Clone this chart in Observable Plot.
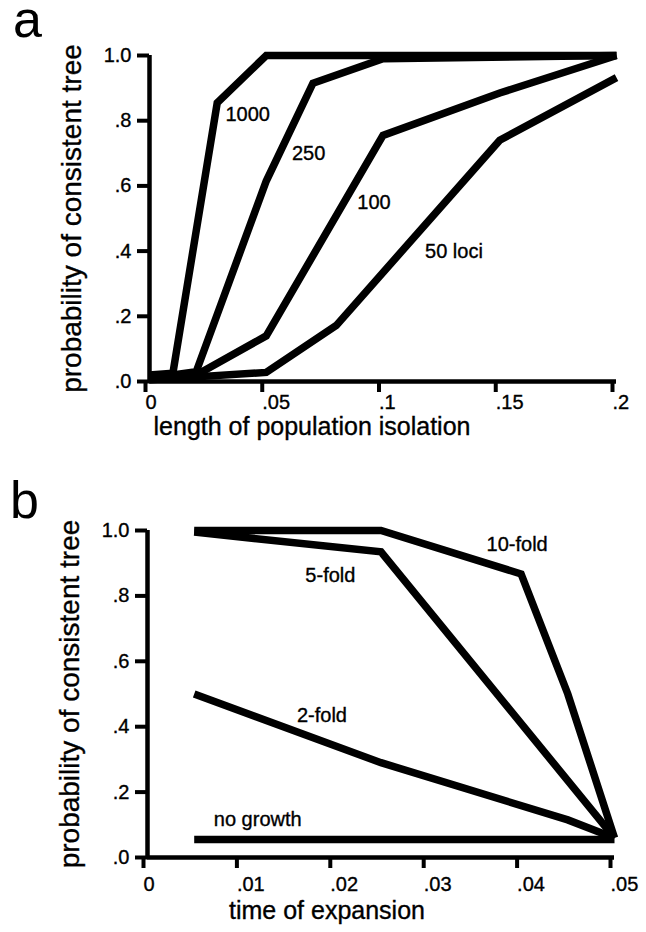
<!DOCTYPE html>
<html><head><meta charset="utf-8">
<script src="https://cdn.jsdelivr.net/npm/d3@7"></script>
<script src="https://cdn.jsdelivr.net/npm/@observablehq/plot@0.6"></script>
<style>
body{margin:0;background:#fff;}
#wrap{position:relative;width:646px;height:932px;font-family:"Liberation Sans",Arial,Helvetica,sans-serif;color:#000;}
.panel{position:absolute;left:0;}
.panel svg text{stroke:#000;stroke-width:0.35px;}
.letter{position:absolute;font-size:52px;line-height:36px;height:36px;}
</style></head><body>
<div id="wrap">
  <div id="pa" class="panel" style="top:0"></div>
  <div id="pb" class="panel" style="top:466px"></div>
  <div class="letter" style="left:13px;top:1px">a</div>
  <div class="letter" style="left:10px;top:482px">b</div>
</div>
<script>
// ---------- Panel a data ----------
const seriesA = ["1000", "250", "100", "50 loci"];
const xA1000 = [0, 0.01, 0.029, 0.05, 0.2];
const yA1000 = [0.02, 0.025, 0.855, 1.0, 1.0];
const xA250 = [0, 0.02, 0.05, 0.07, 0.1, 0.2];
const yA250 = [0.01, 0.03, 0.615, 0.915, 0.99, 1.0];
const xA100 = [0, 0.02, 0.05, 0.1, 0.15, 0.2];
const yA100 = [0.01, 0.02, 0.14, 0.755, 0.885, 1.0];
const xA50 = [0, 0.05, 0.08, 0.15, 0.2];
const yA50 = [0.005, 0.028, 0.172, 0.74, 0.932];
const labelXA = [0.0325, 0.061, 0.089, 0.118];
const labelYA = [0.82, 0.70, 0.55, 0.40];
const xTicksA = [0, 0.05, 0.1, 0.15, 0.2];
const xTickLabelsA = ["0", ".05", ".1", ".15", ".2"];
const yTicks = [0, 0.2, 0.4, 0.6, 0.8, 1.0];
const yTickLabels = [".0", ".2", ".4", ".6", ".8", "1.0"];

// ---------- Panel b data ----------
const seriesB = ["10-fold", "5-fold", "2-fold", "no growth"];
const xB10 = [0.005, 0.025, 0.04, 0.045, 0.05];
const yB10 = [1.0, 1.0, 0.867, 0.5, 0.06];
const xB5 = [0.005, 0.025, 0.05];
const yB5 = [0.995, 0.935, 0.06];
const xB2 = [0.005, 0.025, 0.045, 0.05];
const yB2 = [0.5, 0.29, 0.115, 0.06];
const xB0 = [0.005, 0.05];
const yB0 = [0.055, 0.055];
const labelXB = [0.0363, 0.0169, 0.016, 0.0071];
const labelYB = [0.957, 0.862, 0.433, 0.116];
const xTicksB = [0, 0.01, 0.02, 0.03, 0.04, 0.05];
const xTickLabelsB = ["0", ".01", ".02", ".03", ".04", ".05"];

const yTitle = "probability of consistent tree";
const xTitleA = "length of population isolation";
const xTitleB = "time of expansion";

function rows(names, xs, ys) {
  const out = [];
  names.forEach((n, k) => xs[k].forEach((x, i) => out.push({series: n, x, y: ys[k][i]})));
  return out;
}
const font = "'Liberation Sans', Arial, Helvetica, sans-serif";

function panel({data, labels, lx, ly, xDomain, xTicks, xTickLabels, xTitle, mTop, mBottom, mLeft, mRight, xPad, xTitleDx, xTitleDy}) {
  const xFmt = new Map(xTicks.map((v, i) => [v, xTickLabels[i]]));
  const yFmt = new Map(yTicks.map((v, i) => [v, yTickLabels[i]]));
  return Plot.plot({
    width: 646, height: 466,
    marginTop: mTop, marginBottom: mBottom, marginLeft: mLeft, marginRight: mRight,
    style: {fontFamily: font, fontSize: "20px", color: "#000", background: "#fff", overflow: "visible"},
    x: {domain: xDomain, axis: null},
    y: {domain: [0, 1], axis: null},
    marks: [
      Plot.axisX(xTicks, {tickSize: 11, tickPadding: xPad, strokeWidth: 4, fontSize: 20, textAnchor: "start", dx: -4,
        tickFormat: d => xFmt.get(d), label: null}),
      Plot.axisY(yTicks, {tickSize: 12, tickPadding: 6, strokeWidth: 4, fontSize: 20,
        tickFormat: d => yFmt.get(d), label: null}),
      Plot.ruleY([0], {x1: xDomain[0], x2: xDomain[1], strokeWidth: 4.5, stroke: "#000"}),
      Plot.ruleX([0], {y1: 0, y2: 1, strokeWidth: 4.5, stroke: "#000"}),
      Plot.line(data, {x: "x", y: "y", z: "series", stroke: "#000", strokeWidth: 7.5,
        strokeLinejoin: "miter", strokeLinecap: "butt", strokeMiterlimit: 6}),
      Plot.text(labels, {x: (d, i) => lx[i], y: (d, i) => ly[i], text: d => d, textAnchor: "start",
        fontSize: 20, fill: "#000"}),
      Plot.text([yTitle], {frameAnchor: "left", dx: -77, rotate: -90, textAnchor: "middle", lineAnchor: "middle",
        fontSize: 28, fill: "#000"}),
      Plot.text([xTitle], {frameAnchor: "bottom", dx: xTitleDx, dy: xTitleDy, textAnchor: "middle", lineAnchor: "middle",
        fontSize: 25, fill: "#000"})
    ]
  });
}

document.getElementById("pa").append(panel({
  data: rows(seriesA, [xA1000, xA250, xA100, xA50], [yA1000, yA250, yA100, yA50]),
  labels: seriesA, lx: labelXA, ly: labelYA,
  xDomain: [0, 0.2], xTicks: xTicksA, xTickLabels: xTickLabelsA, xTitle: xTitleA,
  mTop: 55, mBottom: 85, mLeft: 149, mRight: 30, xPad: 2, xTitleDx: -71, xTitleDy: 45
}));
document.getElementById("pb").append(panel({
  data: rows(seriesB, [xB10, xB5, xB2, xB0], [yB10, yB5, yB2, yB0]),
  labels: seriesB, lx: labelXB, ly: labelYB,
  xDomain: [0, 0.05], xTicks: xTicksB, xTickLabels: xTickLabelsB, xTitle: xTitleB,
  mTop: 64, mBottom: 75, mLeft: 147, mRight: 32, xPad: 8, xTitleDx: -54, xTitleDy: 53
}));
</script>
</body></html>
